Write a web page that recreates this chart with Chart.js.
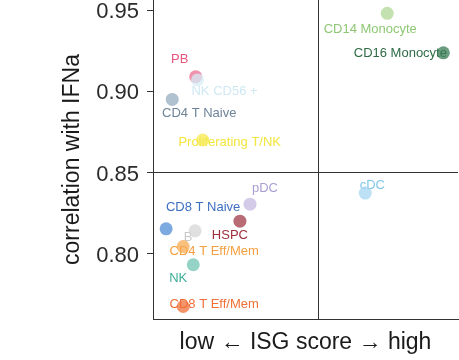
<!DOCTYPE html>
<html>
<head>
<meta charset="utf-8">
<script src="https://cdn.jsdelivr.net/npm/chart.js@4/dist/chart.umd.min.js"></script>
<style>
  html, body { margin: 0; padding: 0; background: #ffffff; }
  #wrap { width: 459px; height: 360px; position: relative; }
</style>
</head>
<body>
<div id="wrap"><canvas id="c" width="459" height="360"></canvas></div>
<script>
// Cell types, their ISG score (relative, low to high) and correlation with IFNa
const cellTypes = [
  'PB', 'NK CD56 +', 'CD4 T Naive', 'Proliferating T/NK', 'pDC', 'CD8 T Naive',
  'HSPC', 'B', 'CD4 T Eff/Mem', 'NK', 'CD8 T Eff/Mem', 'CD14 Monocyte',
  'CD16 Monocyte', 'cDC'
];
const isgScore = [
  0.140, 0.146, 0.063, 0.163, 0.318, 0.043,
  0.285, 0.138, 0.099, 0.132, 0.099, 0.768,
  0.952, 0.696
];
const ifnaCorr = [
  0.909, 0.907, 0.895, 0.870, 0.8305, 0.8153,
  0.820, 0.8141, 0.8044, 0.7932, 0.7675, 0.948,
  0.9237, 0.8373
];
const yTicks = [0.80, 0.85, 0.90, 0.95];
const isgCut = 0.541;   // vertical divider on the ISG axis
const ifnaCut = 0.85;   // horizontal divider on the correlation axis

// Styling for each cell type
const pointColors = [
  'rgba(236,110,146,0.75)', 'rgba(214,236,246,0.75)', 'rgba(150,172,192,0.75)', 'rgba(246,234,80,0.75)',
  'rgba(196,186,224,0.75)', 'rgba(80,140,214,0.75)', 'rgba(160,58,70,0.75)', 'rgba(214,214,214,0.75)',
  'rgba(247,170,80,0.75)', 'rgba(112,196,178,0.75)', 'rgba(240,112,56,0.75)', 'rgba(176,216,150,0.75)',
  'rgba(56,124,84,0.75)', 'rgba(166,214,240,0.75)'
];
const textColors = [
  '#e8557f', '#cfe8f2', '#6d8499', '#f2e63c',
  '#a99fd2', '#3d6fc0', '#9c2f3b', '#c8c8c8',
  '#f5a040', '#3daf98', '#f07038', '#8fc874',
  '#2f6b45', '#80c6ea'
];
// Label placement relative to each point (px)
const labelOffsets = [
  [-16, -17], [27, 12], [27, 14], [27, 2],
  [15, -16], [37, -21], [-10, 14], [-7, 7],
  [31, 5], [-15, 14], [31, -2], [-17, 16],
  [-43, 1], [7, -8]
];

const FONT = '"Liberation Sans", Arial, Helvetica, sans-serif';

const dividers = {
  id: 'dividers',
  beforeDatasetsDraw(chart) {
    const { ctx, chartArea: a, scales: { x, y } } = chart;
    ctx.save();
    ctx.strokeStyle = '#333333';
    ctx.lineWidth = 1;
    const vx = Math.round(x.getPixelForValue(isgCut)) + 0.5;
    const hy = Math.round(y.getPixelForValue(ifnaCut)) + 0.5;
    ctx.beginPath();
    ctx.moveTo(vx, a.top);
    ctx.lineTo(vx, a.bottom);
    ctx.moveTo(a.left, hy);
    ctx.lineTo(a.right, hy);
    ctx.stroke();
    // cell type labels sit under the translucent points
    const meta = chart.getDatasetMeta(0);
    ctx.font = '13px ' + FONT;
    ctx.textAlign = 'center';
    ctx.textBaseline = 'middle';
    meta.data.forEach((pt, i) => {
      ctx.fillStyle = textColors[i];
      ctx.fillText(cellTypes[i], pt.x + labelOffsets[i][0], pt.y + labelOffsets[i][1]);
    });
    ctx.restore();
  }
};

new Chart(document.getElementById('c'), {
  type: 'scatter',
  data: {
    datasets: [{
      data: isgScore.map((v, i) => ({ x: v, y: ifnaCorr[i] })),
      backgroundColor: pointColors,
      borderWidth: 0,
      pointRadius: 6.5,
      pointHoverRadius: 6.5
    }]
  },
  options: {
    responsive: false,
    animation: false,
    devicePixelRatio: 1,
    layout: { autoPadding: false, padding: { left: 0, right: 1, top: 0, bottom: 0 } },
    plugins: { legend: { display: false }, tooltip: { enabled: false } },
    scales: {
      x: {
        type: 'linear',
        min: 0,
        max: 1,
        grid: { display: false },
        border: { display: true, color: '#333333', width: 1 },
        ticks: { display: false },
        title: {
          display: true,
          text: 'low \u2190 ISG score \u2192 high',
          color: '#1a1a1a',
          font: { family: FONT, size: 23 },
          padding: { top: 0, bottom: 4 }
        },
        afterFit(scale) { scale.height = 41; scale.paddingLeft = 0; scale.paddingRight = 0; }
      },
      y: {
        type: 'linear',
        min: 0.7598,
        max: 0.9562,
        afterBuildTicks(scale) { scale.ticks = yTicks.map(v => ({ value: v })); },
        grid: { drawOnChartArea: false, drawTicks: true, tickLength: 6, color: '#333333', lineWidth: 1 },
        border: { display: true, color: '#333333', width: 1 },
        ticks: {
          color: '#2b2b2b',
          font: { family: FONT, size: 22 },
          padding: 8,
          labelOffset: 2,
          callback: (v) => Number(v).toFixed(2)
        },
        title: {
          display: true,
          text: 'correlation with IFNa',
          color: '#1a1a1a',
          font: { family: FONT, size: 23 },
          padding: { top: 59, bottom: 0 }
        },
        afterFit(scale) { scale.width = 153; scale.paddingTop = 0; scale.paddingBottom = 0; }
      }
    }
  },
  plugins: [dividers]
});
</script>
</body>
</html>
